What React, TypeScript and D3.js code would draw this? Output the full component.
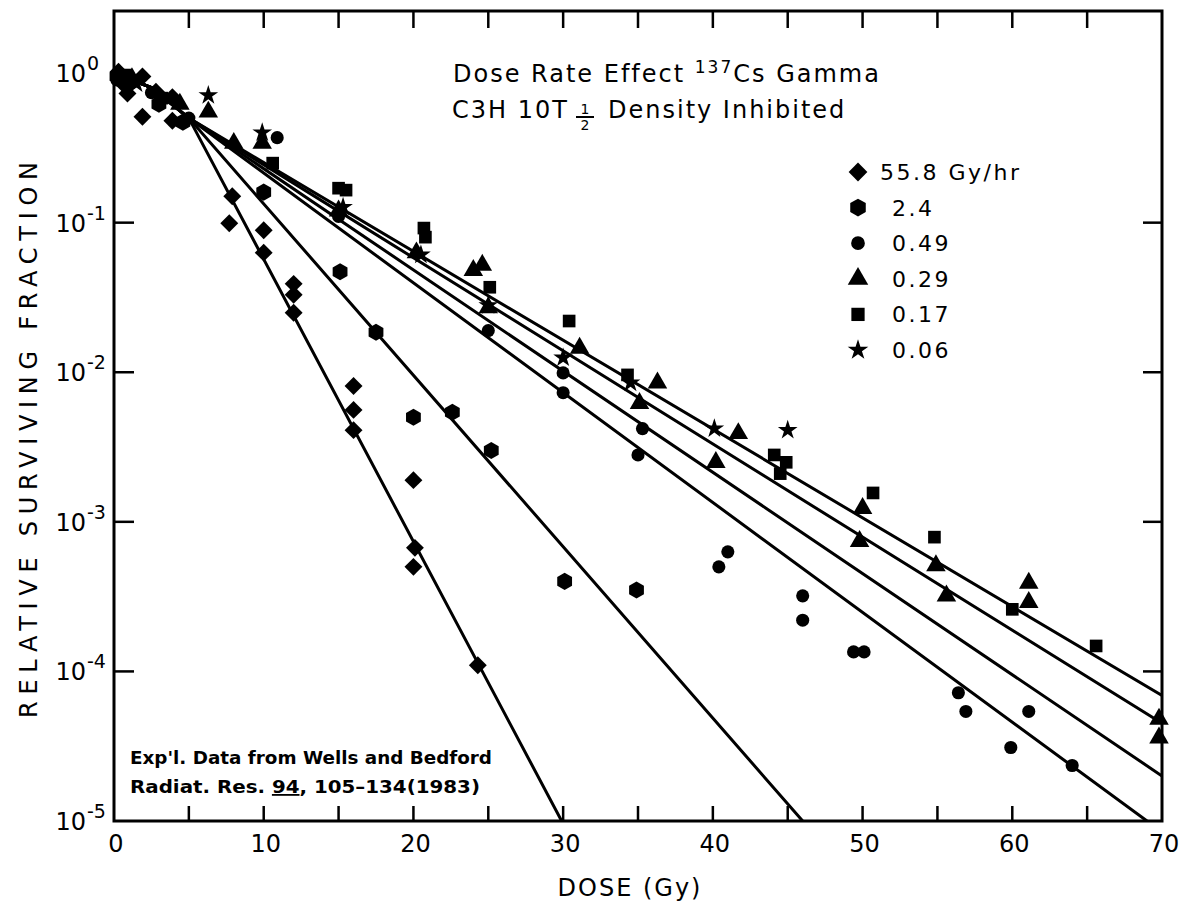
import { useEffect, useRef } from 'react'
import * as d3 from 'd3'

const W = 1181
const H = 904

// [dose (Gy), relative surviving fraction]
const rate558 = [[0.3, 1.02], [0.6, 0.85], [0.9, 0.73], [1.9, 0.95], [1.9, 0.51], [2.8, 0.75], [3.9, 0.69], [3.9, 0.48], [7.9, 0.15], [7.7, 0.099], [10, 0.089], [10, 0.063], [12, 0.039], [12, 0.033], [12, 0.025], [16, 0.0081], [16, 0.0056], [16, 0.0041], [20, 0.0019], [20.1, 0.00067], [20, 0.0005], [24.3, 0.00011]]
const rate24 = [[0.2, 0.95], [1.2, 0.88], [3, 0.62], [4.6, 0.47], [10, 0.16], [15.1, 0.047], [17.5, 0.0185], [20, 0.005], [22.6, 0.0054], [25.2, 0.003], [30.1, 0.0004], [34.9, 0.00035]]
const rate049 = [[0.2, 0.9], [2.5, 0.74], [5, 0.5], [10.9, 0.37], [15, 0.11], [25, 0.019], [30, 0.0099], [30, 0.0073], [35.3, 0.0042], [35, 0.0028], [41, 0.00063], [40.4, 0.0005], [46, 0.00032], [46, 0.00022], [49.4, 0.000135], [50.1, 0.000135], [56.4, 0.000072], [56.9, 0.000054], [59.9, 0.000031], [61.1, 0.000054], [64, 0.0000235]]
const rate029 = [[1.2, 0.92], [4.4, 0.62], [6.3, 0.55], [8, 0.34], [9.9, 0.34], [15, 0.12], [20.2, 0.063], [24, 0.048], [24.6, 0.052], [25, 0.027], [31.1, 0.0145], [35.1, 0.0062], [36.3, 0.0085], [40.2, 0.0025], [41.7, 0.0039], [49.8, 0.00074], [50, 0.00123], [54.9, 0.00051], [55.6, 0.00032], [61.1, 0.00039], [61.1, 0.00029], [69.8, 0.000048], [69.8, 0.000036]]
const rate017 = [[0.8, 0.97], [3.2, 0.68], [10.6, 0.25], [15, 0.17], [15.5, 0.165], [20.7, 0.092], [20.8, 0.08], [25.1, 0.037], [30.4, 0.022], [34.3, 0.0096], [44.1, 0.0028], [44.9, 0.0025], [44.5, 0.0021], [50.7, 0.00156], [54.8, 0.00079], [60, 0.00026], [65.6, 0.000148]]
const rate006 = [[1.5, 0.85], [6.3, 0.71], [9.9, 0.4], [15.3, 0.127], [20.5, 0.061], [25, 0.028], [30, 0.0125], [34.5, 0.0085], [40.1, 0.0042], [45, 0.0041]]

// fitted survival curves
const fit558 = [[0, 1], [2.5, 0.8], [5, 0.5], [29.9, 0.00001]]
const fit24 = [[0, 1], [2.5, 0.8], [5, 0.5], [46, 0.00001]]
const fit049 = [[0, 1], [2.5, 0.8], [5, 0.5], [69, 0.00001]]
const fit029 = [[0, 1], [2.5, 0.8], [5, 0.5], [70, 0.00002]]
const fit017 = [[0, 1], [2.5, 0.8], [5, 0.5], [70, 0.000045]]
const fit006 = [[0, 1], [2.5, 0.8], [5, 0.5], [70, 0.000069]]

const legendLabels = ['55.8 Gy/hr', '2.4', '0.49', '0.29', '0.17', '0.06']
const yTicks = [1, 0.1, 0.01, 0.001, 0.0001, 0.00001]
const yExponents = [0, 1, 2, 3, 4, 5]
const xLabels = [0, 10, 20, 30, 40, 50, 60, 70]
const xMinor = [5, 10, 15, 20, 25, 30, 35, 40, 45, 50, 55, 60, 65]

const FONT = '"DejaVu Sans", sans-serif'

const symbolHexagon = {
  draw(context: any, size: number) {
    const r = Math.sqrt((2 * size) / (3 * Math.sqrt(3)))
    for (let i = 0; i < 6; i++) {
      const a = (Math.PI / 3) * i - Math.PI / 2
      if (i === 0) context.moveTo(r * Math.cos(a), r * Math.sin(a))
      else context.lineTo(r * Math.cos(a), r * Math.sin(a))
    }
    context.closePath()
  }
}

const series = [
  { data: rate558, fit: fit558, type: d3.symbolSquare, size: 160, rotate: 45 },
  { data: rate24, fit: fit24, type: symbolHexagon, size: 190, rotate: 0 },
  { data: rate049, fit: fit049, type: d3.symbolCircle, size: 135, rotate: 0 },
  { data: rate029, fit: fit029, type: d3.symbolTriangle, size: 165, rotate: 0 },
  { data: rate017, fit: fit017, type: d3.symbolSquare, size: 160, rotate: 0 },
  { data: rate006, fit: fit006, type: d3.symbolStar, size: 120, rotate: 0 },
]

export default function App() {
  const svgRef = useRef<SVGSVGElement>(null)

  useEffect(() => {
    if (!svgRef.current) return
    const svg = d3.select(svgRef.current)
    svg.selectAll('*').remove()

    const x = d3.scaleLinear().domain([0, 70]).range([114, 1162])
    const y = d3.scaleLog().domain([0.00001, 2.6]).range([821, 11])
    const [x0, x1] = x.range()
    const [yb, yt] = y.range()

    svg.append('rect').attr('width', W).attr('height', H).attr('fill', '#fff')

    svg.append('clipPath').attr('id', 'plot-clip')
      .append('rect')
      .attr('x', x0).attr('y', yt).attr('width', x1 - x0).attr('height', yb - yt)

    // fitted curves
    const line = d3.line<number[]>().x(d => x(d[0])).y(d => y(d[1]))
    const fits = svg.append('g').attr('clip-path', 'url(#plot-clip)')
    series.forEach(s => {
      fits.append('path')
        .attr('d', line(s.fit))
        .attr('fill', 'none')
        .attr('stroke', '#000')
        .attr('stroke-width', 3)
    })

    // data markers
    const marks = svg.append('g')
    series.forEach(s => {
      const sym = d3.symbol().type(s.type as any).size(s.size)
      marks.selectAll(null)
        .data(s.data)
        .join('path')
        .attr('d', sym())
        .attr('transform', d => `translate(${x(d[0])},${y(d[1])}) rotate(${s.rotate})`)
        .attr('fill', '#000')
    })

    // frame
    svg.append('rect')
      .attr('x', x0).attr('y', yt).attr('width', x1 - x0).attr('height', yb - yt)
      .attr('fill', 'none').attr('stroke', '#000').attr('stroke-width', 3)

    const ticks = svg.append('g').attr('stroke', '#000').attr('stroke-width', 2.5)
    xMinor.forEach(v => {
      ticks.append('line').attr('x1', x(v)).attr('x2', x(v)).attr('y1', yb).attr('y2', yb - 15)
      ticks.append('line').attr('x1', x(v)).attr('x2', x(v)).attr('y1', yt).attr('y2', yt + 17)
    })
    yTicks.slice(1, -1).forEach(v => {
      ticks.append('line').attr('x1', x0).attr('x2', x0 + 20).attr('y1', y(v)).attr('y2', y(v))
      ticks.append('line').attr('x1', x1).attr('x2', x1 - 19).attr('y1', y(v)).attr('y2', y(v))
    })

    // y tick labels
    const yl = svg.append('g').attr('font-family', FONT).attr('fill', '#000')
    yTicks.forEach((v, i) => {
      yl.append('text')
        .attr('x', 86).attr('y', y(v) + 9)
        .attr('text-anchor', 'end').attr('font-size', 24)
        .text('10')
      const e = yExponents[i]
      yl.append('text')
        .attr('x', 87).attr('y', y(v) - 3)
        .attr('font-size', 19)
        .text(e === 0 ? '0' : `-${e}`)
    })

    // x tick labels
    const xl = svg.append('g').attr('font-family', FONT).attr('font-size', 24).attr('text-anchor', 'middle')
    xLabels.forEach(v => {
      xl.append('text').attr('x', x(v) + 2).attr('y', 852).text(String(v))
    })

    // axis titles
    svg.append('text')
      .attr('x', 630).attr('y', 896)
      .attr('text-anchor', 'middle')
      .attr('font-family', FONT).attr('font-size', 24).attr('letter-spacing', 2)
      .text('DOSE (Gy)')
    svg.append('text')
      .attr('transform', 'translate(37,440) rotate(-90)')
      .attr('text-anchor', 'middle')
      .attr('font-family', FONT).attr('font-size', 24)
      .attr('textLength', 556).attr('lengthAdjust', 'spacing')
      .text('RELATIVE SURVIVING FRACTION')

    // title
    const title = svg.append('g').attr('font-family', FONT).attr('font-size', 24).attr('letter-spacing', 2)
    const t1 = title.append('text').attr('x', 453).attr('y', 82)
    t1.append('tspan').text('Dose Rate Effect ')
    t1.append('tspan').attr('font-size', 17).attr('dy', -9).text('137')
    t1.append('tspan').attr('dy', 9).text('Cs Gamma')
    title.append('text').attr('x', 452).attr('y', 118).text('C3H 10T')
    title.append('text').attr('x', 585).attr('y', 114).attr('font-size', 14).attr('text-anchor', 'middle').attr('letter-spacing', 0).text('1')
    title.append('line').attr('x1', 576).attr('x2', 594).attr('y1', 117).attr('y2', 117).attr('stroke', '#000').attr('stroke-width', 2)
    title.append('text').attr('x', 585).attr('y', 130).attr('font-size', 14).attr('text-anchor', 'middle').attr('letter-spacing', 0).text('2')
    title.append('text').attr('x', 608).attr('y', 118).text('Density Inhibited')

    // legend
    const legend = svg.append('g').attr('font-family', FONT).attr('font-size', 22).attr('letter-spacing', 2.5)
    series.forEach((s, i) => {
      const cy = 172 + i * 35.6
      legend.append('path')
        .attr('d', d3.symbol().type(s.type as any).size(s.size * 1.1)())
        .attr('transform', `translate(858,${cy}) rotate(${s.rotate})`)
        .attr('fill', '#000')
      legend.append('text')
        .attr('x', i === 0 ? 880 : 892).attr('y', cy + 8)
        .text(legendLabels[i])
    })

    // source note
    const note = svg.append('g').attr('font-family', FONT).attr('font-weight', 'bold').attr('font-size', 18)
    note.append('text').attr('x', 130).attr('y', 764)
      .attr('textLength', 362).attr('lengthAdjust', 'spacingAndGlyphs')
      .text("Exp'l. Data from Wells and Bedford")
    const n2 = note.append('text').attr('x', 130).attr('y', 793)
      .attr('textLength', 350).attr('lengthAdjust', 'spacingAndGlyphs')
    n2.append('tspan').text('Radiat. Res. ')
    n2.append('tspan').attr('text-decoration', 'underline').text('94')
    n2.append('tspan').text(', 105–134(1983)')
  }, [])

  return (
    <svg
      ref={svgRef}
      width={W}
      height={H}
      style={{ position: 'absolute', left: 0, top: 0, display: 'block' }}
    />
  )
}
